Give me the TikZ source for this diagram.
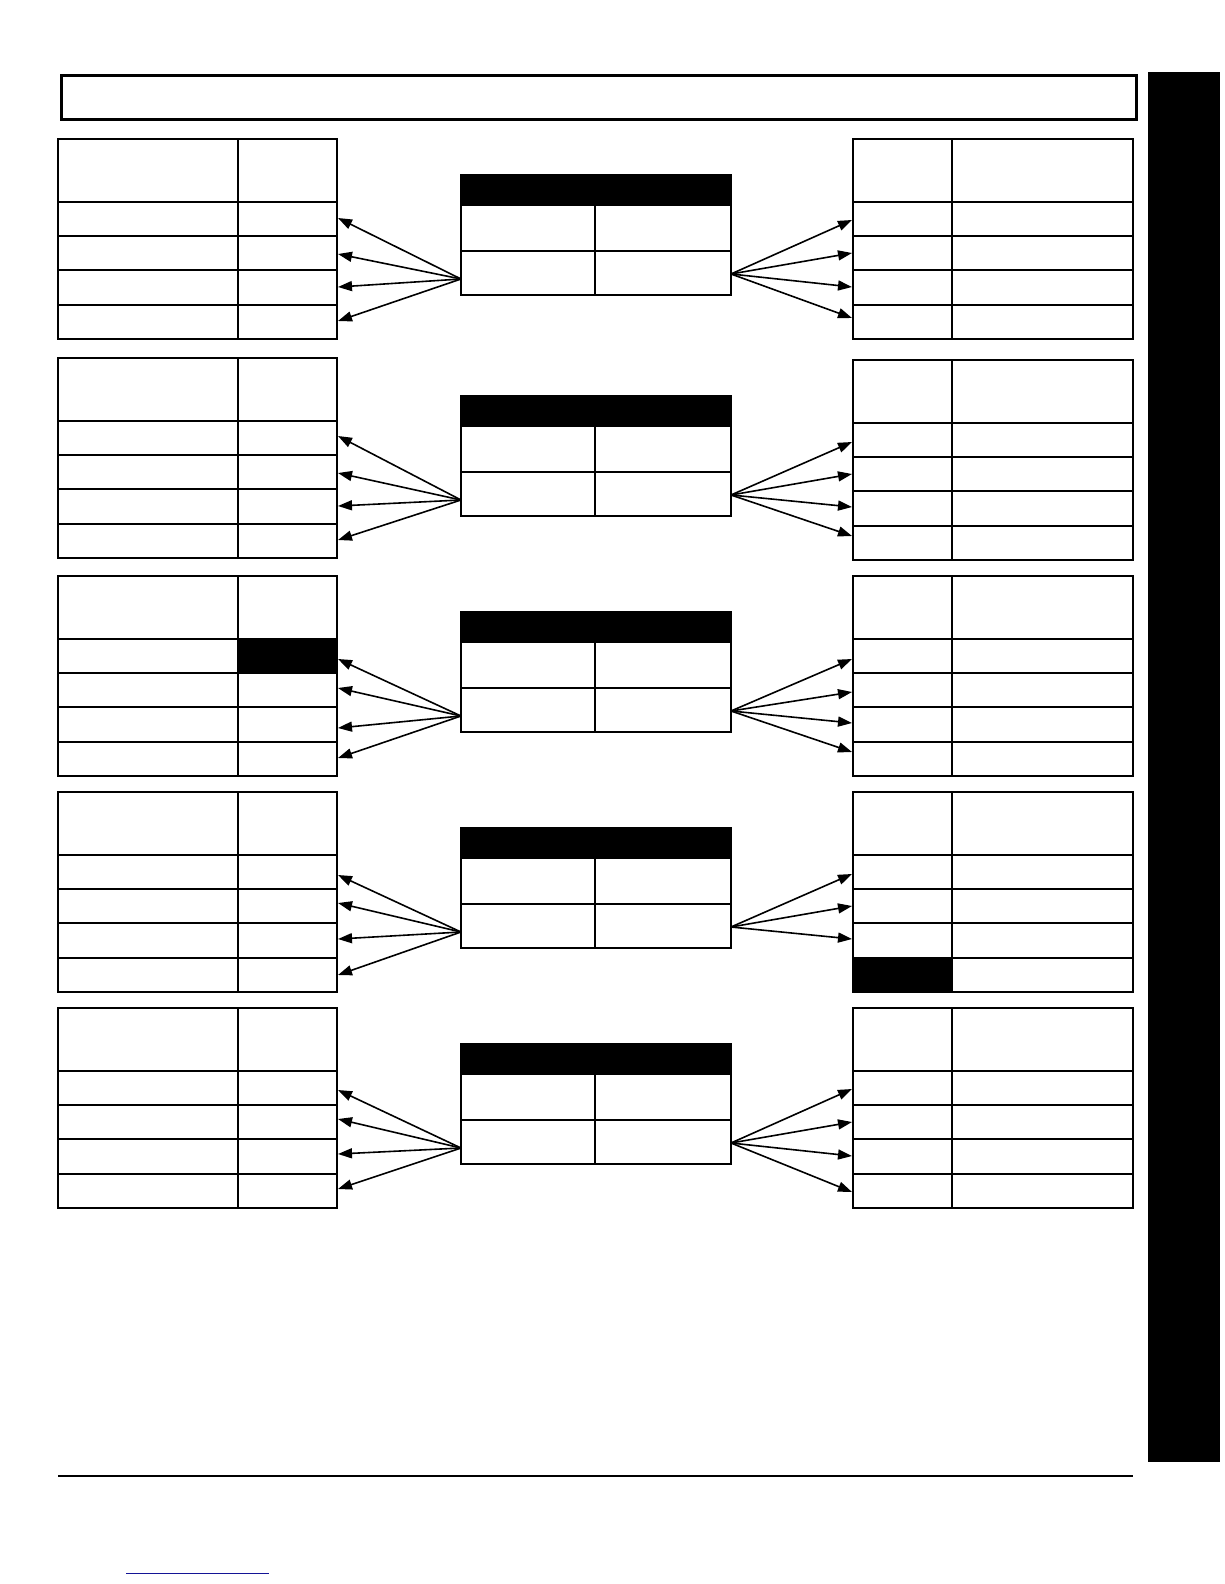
\documentclass[tikz,border=0pt]{standalone}
\usetikzlibrary{arrows.meta}
\definecolor{linkblue}{RGB}{20,20,150}
\begin{document}
\begin{tikzpicture}[x=1bp,y=-1bp,
  tbl/.style={line width=1.25bp,line cap=rect},
  arr/.style={line width=1.6bp,-{Triangle[length=14bp,width=10bp]}},
  blackcell/.style={fill=black}]
\useasboundingbox (0,0) rectangle (1224,1584);
% title frame
\node[draw,line width=3bp,minimum width=1075bp,minimum height=43bp,anchor=north west,inner sep=0pt] (title) at (59.5,74.5) {};
% side tab
\fill (1148,72) rectangle (1220,1462);
% bottom rule
\draw[line width=2.2bp] (58,1476) -- (1133,1476);
% link underline
\draw[linkblue,line width=1bp] (126,1573) -- (269,1573);
% tables
\foreach \i/\TL/\TR/\TM in {1/139/139/175, 2/358/360/396, 3/576/576/612, 4/792/792/828, 5/1008/1008/1044}{
  % left table
  \draw[tbl] (58,\TL) rectangle (337,{\TL+200});
  \draw[tbl] (238,\TL) -- (238,{\TL+200});
  \foreach \d in {63,97,131,166}{\draw[tbl] (58,{\TL+\d}) -- (337,{\TL+\d});}
  % right table
  \draw[tbl] (853,\TR) rectangle (1133,{\TR+200});
  \draw[tbl] (952,\TR) -- (952,{\TR+200});
  \foreach \d in {63,97,131,166}{\draw[tbl] (853,{\TR+\d}) -- (1133,{\TR+\d});}
  % middle box
  \fill (461,\TM) rectangle (731,{\TM+31});
  \draw[tbl] (461,\TM) rectangle (731,{\TM+120});
  \draw[tbl] (461,{\TM+76}) -- (731,{\TM+76});
  \draw[tbl] (595,{\TM+31}) -- (595,{\TM+120});
  \coordinate (mL\i) at (461,{\TM+104});
  \coordinate (mR\i) at (731,{\TM+99});
}
% black cells
\fill[blackcell] (238,639) rectangle (337,673);
\fill[blackcell] (853,958) rectangle (952,992);
% left arrow targets
\foreach \i/\a/\b/\c/\d in {1/218/254/287/321, 2/436/473/506/540, 3/659/688/728/758, 4/875/903/939/975, 5/1090/1119/1154/1189}{
  \coordinate (La\i) at (338,\a);
  \coordinate (Lb\i) at (338,\b);
  \coordinate (Lc\i) at (338,\c);
  \coordinate (Ld\i) at (338,\d);
  \draw[arr] (mL\i) -- (La\i);
  \draw[arr] (mL\i) -- (Lb\i);
  \draw[arr] (mL\i) -- (Lc\i);
  \draw[arr] (mL\i) -- (Ld\i);
}
% right arrow targets
\foreach \i/\a/\b/\c/\d in {1/220/253/287/318, 2/442/474/507/536, 3/659/692/723/752, 5/1089/1122/1156/1192}{
  \coordinate (Ra\i) at (852,\a);
  \coordinate (Rb\i) at (852,\b);
  \coordinate (Rc\i) at (852,\c);
  \coordinate (Rd\i) at (852,\d);
  \draw[arr] (mR\i) -- (Ra\i);
  \draw[arr] (mR\i) -- (Rb\i);
  \draw[arr] (mR\i) -- (Rc\i);
  \draw[arr] (mR\i) -- (Rd\i);
}
\coordinate (Ra4) at (852,874);
\coordinate (Rb4) at (852,906);
\coordinate (Rc4) at (852,939);
\draw[arr] (mR4) -- (Ra4);
\draw[arr] (mR4) -- (Rb4);
\draw[arr] (mR4) -- (Rc4);
\end{tikzpicture}
\end{document}
